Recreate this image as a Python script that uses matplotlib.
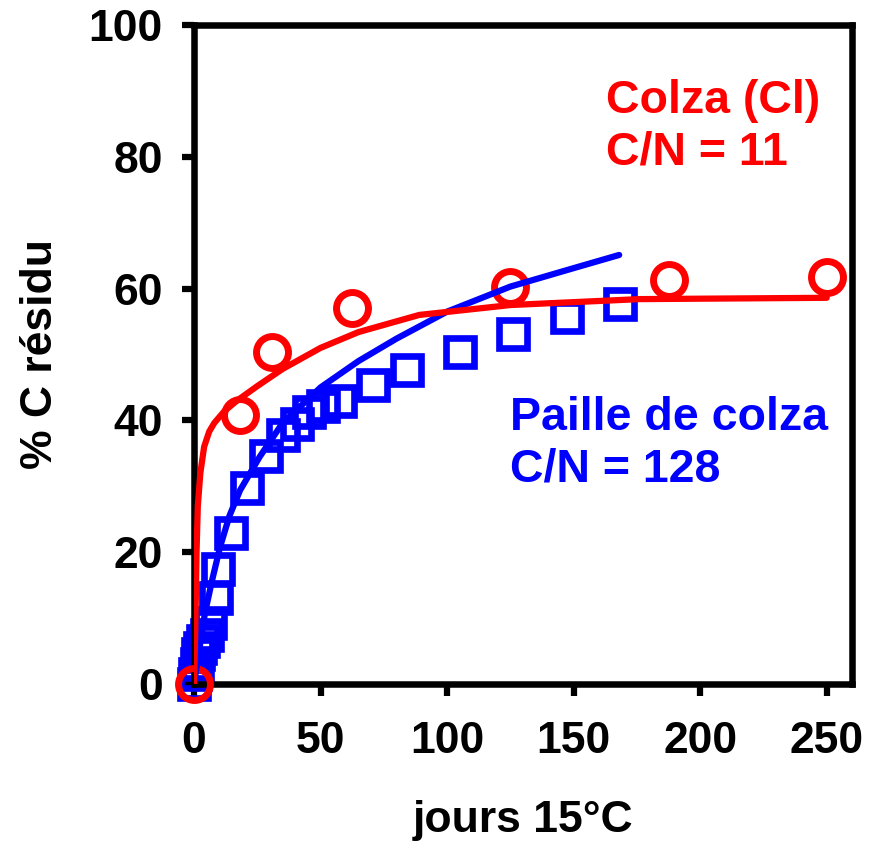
import matplotlib
matplotlib.use("Agg")
import matplotlib.pyplot as plt

plt.rcParams['font.family'] = ['Liberation Sans', 'DejaVu Sans']
plt.rcParams['font.weight'] = 'bold'

# --- Colza (Cl), C/N = 11 : mesures et ajustement ---
colza_x = [0, 18, 31, 62.5, 125, 187.5, 250]
colza_y = [0, 40.8, 50.3, 57.0, 60.2, 61.3, 61.8]

colza_fit_x = [0, 0.5, 1, 1.5, 2.5, 4, 6, 8, 12, 17, 25, 35, 50, 65, 89, 125, 176, 250]
colza_fit_y = [0, 8, 20, 27, 32, 36, 38.3, 39.6, 41.4, 43.0, 45.2, 47.8, 51.0, 53.4, 56.0, 57.5, 58.4, 58.6]

# --- Paille de colza, C/N = 128 ---
paille_x = [0, 0.5, 1, 1.5, 2.5, 3.5, 5, 6.5, 8.5, 9.5, 14.8, 20.8, 28.5, 35.3, 40.8,
            45.5, 51, 57.7, 70.8, 84, 105, 126.2, 147.2, 168.3]
paille_y = [0, 1.5, 3, 4.5, 5.5, 6.5, 7.5, 9.3, 13, 17.5, 22.9, 29.8, 34.6, 37.8, 39.5,
            41.2, 42.2, 43, 45.4, 47.6, 50.4, 53.1, 55.7, 57.6]

paille_fit_x = [0, 2, 4.3, 7, 10.3, 14, 18.2, 26, 35, 50, 65, 80, 100, 125, 150, 168]
paille_fit_y = [0, 5, 10.7, 15.5, 20.8, 25.5, 29.4, 34.5, 39.6, 45.0, 49.0, 52.4, 56.5, 60.3, 63.1, 65.1]

xticks = [0, 50, 100, 150, 200, 250]
yticks = [0, 20, 40, 60, 80, 100]

RED = '#FF0000'
BLUE = '#0000FF'

fig = plt.figure(figsize=(8.7, 8.46), dpi=100)
ax = fig.add_axes([0.223, 0.1915, 0.7563, 0.779])

ax.plot(paille_x, paille_y, ls='none', marker='s', ms=20, mfc='none', mec=BLUE,
        mew=4.8, clip_on=False, zorder=2)
ax.plot(colza_x, colza_y, ls='none', marker='o', ms=23, mfc='none', mec=RED,
        mew=5, clip_on=False, zorder=3)
ax.plot(paille_fit_x, paille_fit_y, color=BLUE, lw=4.5, solid_capstyle='round', zorder=4)
ax.plot(colza_fit_x, colza_fit_y, color=RED, lw=4.5, solid_capstyle='round', zorder=5)

ax.set_xlim(0, 260)
ax.set_ylim(0, 100)
ax.set_xticks(xticks)
ax.set_yticks(yticks)
ax.tick_params(direction='out', length=8.5, width=4.5, labelsize=32)
ax.tick_params(axis='x', pad=18.5)
ax.tick_params(axis='y', pad=14)
for s in ax.spines.values():
    s.set_linewidth(4.7)

ax.set_xlabel('jours 15°C', fontsize=32, fontweight='bold', labelpad=27)
ax.set_ylabel('% C résidu', fontsize=32, fontweight='bold', labelpad=20)

ax.text(0.626, 0.8665, 'Colza (Cl)', color=RED, fontsize=33.5, fontweight='bold',
        transform=ax.transAxes, va='baseline')
ax.text(0.626, 0.789, 'C/N = 11', color=RED, fontsize=33.5, fontweight='bold',
        transform=ax.transAxes, va='baseline')
ax.text(0.480, 0.3854, 'Paille de colza', color=BLUE, fontsize=33.5, fontweight='bold',
        transform=ax.transAxes, va='baseline')
ax.text(0.480, 0.3065, 'C/N = 128', color=BLUE, fontsize=33.5, fontweight='bold',
        transform=ax.transAxes, va='baseline')

fig.savefig('out.png', dpi=100)
